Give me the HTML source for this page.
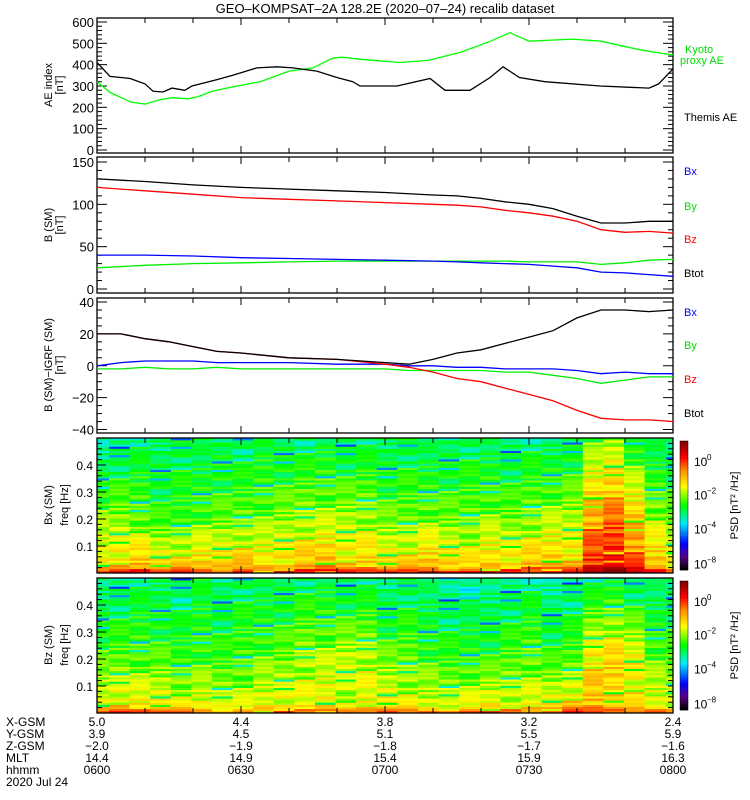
<!DOCTYPE html>
<html><head><meta charset="utf-8"><style>
html,body{margin:0;padding:0;background:#fff;}
svg{display:block;font-family:"Liberation Sans",sans-serif;}
</style></head><body>
<svg id="chart" width="750" height="800" viewBox="0 0 750 800" xmlns="http://www.w3.org/2000/svg">
<text x="385" y="13" text-anchor="middle" font-size="13">GEO–KOMPSAT–2A 128.2E (2020–07–24) recalib dataset</text>
<g id="g"></g>
</svg>
<script>
// ---- Data ----
// minutes since 06:00
const aeThemisT = [0,2.7,6.9,10,11.7,13.75,15.6,18.3,19.8,25,28.3,33.3,37.5,40.8,45.8,50,53.3,54.8,57.5,62.5,69.4,72.5,77.7,81.9,84.6,88,93.3,104.8,115,117,120];
const aeThemisV = [410,345,335,310,275,272,290,280,300,330,350,385,390,385,370,340,320,300,300,300,335,280,280,340,390,340,320,300,290,310,380];
const aeKyotoT = [0,2.7,7,10,13,15.6,19,21,24,28,34,40,45,49,51,55,63,69,76,82,86,90,99,105,113,120];
const aeKyotoV = [320,270,225,215,235,245,240,250,275,295,320,370,385,430,435,425,410,420,460,510,550,510,520,510,470,445];

const bT = [0,10,20,30,40,50,60,70,75,80,85,90,95,100,105,110,115,120];
const bTot = [130,127,123,120,118,116,114,111,110,107,103,100,95,86,78,78,80,80];
const bZ   = [120,116,112,108,106,104,102,100,99,97,93,90,86,80,70,67,68,66];
const bX   = [40,40,39,37,36,35,34,33,32,31,30,29,27,25,20,19,17,15];
const bY   = [25,28,30,31,32,33,33,33,33,33,33,32,32,32,29,31,34,35];

const dT = [0,5,10,15,20,25,30,40,50,60,65,70,75,80,85,90,95,100,105,110,115,120];
const dTot = [20,20,17,15,12,9,8,5,4,2,1,4,8,10,14,18,22,30,35,35,34,35];
const dZ   = [20,20,17,15,12,9,8,5,4,1,-1,-4,-8,-10,-14,-18,-22,-28,-33,-34,-34,-35];
const dX   = [0,2,3,3,3,2,2,2,1,1,0,0,-1,-1,-2,-2,-2,-3,-5,-4,-5,-5];
const dY   = [-2,-2,-1,-2,-2,-1,-2,-2,-2,-2,-3,-3,-3,-3,-4,-4,-6,-8,-11,-9,-7,-7];

// spectrogram column-level (colour-scale 0..1) at high/mid/low freq
const bxHigh = [0.42,0.44,0.46,0.45,0.47,0.45,0.47,0.46,0.48,0.47,0.47,0.48,0.46,0.47,0.46,0.47,0.45,0.46,0.47,0.46,0.45,0.47,0.46,0.48,0.58,0.62,0.52,0.46,0.44];
const bxMid  = [0.58,0.58,0.56,0.52,0.52,0.55,0.55,0.56,0.57,0.58,0.6,0.6,0.6,0.6,0.56,0.56,0.58,0.56,0.56,0.58,0.56,0.58,0.6,0.6,0.76,0.8,0.72,0.6,0.56];
const bxLow  = [0.66,0.7,0.72,0.68,0.7,0.7,0.7,0.72,0.68,0.7,0.72,0.74,0.7,0.7,0.68,0.7,0.72,0.7,0.68,0.7,0.7,0.72,0.72,0.72,0.85,0.88,0.82,0.72,0.68];
const bzHigh = [0.44,0.44,0.46,0.46,0.44,0.47,0.45,0.47,0.46,0.47,0.48,0.48,0.46,0.47,0.44,0.46,0.44,0.42,0.42,0.43,0.44,0.46,0.42,0.44,0.48,0.5,0.46,0.44,0.44];
const bzMid  = [0.54,0.55,0.55,0.54,0.52,0.54,0.52,0.54,0.56,0.56,0.6,0.6,0.62,0.62,0.56,0.56,0.54,0.52,0.52,0.52,0.54,0.56,0.52,0.54,0.68,0.7,0.66,0.56,0.54];
const bzLow  = [0.64,0.68,0.66,0.66,0.64,0.64,0.62,0.62,0.64,0.66,0.64,0.66,0.62,0.64,0.66,0.64,0.62,0.62,0.64,0.66,0.64,0.64,0.66,0.7,0.72,0.68,0.66,0.64,0.64];
const rowTexture = [0.03,-0.06,0.02,0.05,-0.03,0,-0.08,0.04,0.01,-0.02,0.06,-0.05,0.02,-0.01,0.03,-0.2,0.04,0,-0.03,0.05,-0.04,0.02,0.07,-0.02,-0.06,0.03,0.01,-0.1,0.04,-0.02,0.05,0,-0.04,0.02,0.06,-0.03,-0.15,0.02,0.04,-0.05,0.01];

const posRows = ['X-GSM','Y-GSM','Z-GSM','MLT','hhmm'];
const posVals = [['5.0','4.4','3.8','3.2','2.4'],['3.9','4.5','5.1','5.5','5.9'],['−2.0','−1.9','−1.8','−1.7','−1.6'],['14.4','14.9','15.4','15.9','16.3'],['0600','0630','0700','0730','0800']];

// ---- Drawing ----
const NS='http://www.w3.org/2000/svg';
const G=document.getElementById('g');
const X0=97,X1=673;
const xs=t=>X0+t*(X1-X0)/120;
function mk(tag,at,parent){const e=document.createElementNS(NS,tag);for(const k in at)e.setAttribute(k,at[k]);(parent||G).appendChild(e);return e;}
function txt(x,y,s,at){const e=mk('text',Object.assign({x:x,y:y,'font-size':12},at||{}));e.textContent=s;return e;}

const panels=[
 {top:18,bot:153,v0:0,v1:600,y0:150,y1:22,maj:100,min:20,name:'ae'},
 {top:157,bot:293,v0:0,v1:150,y0:289,y1:162,maj:50,min:10,name:'b-sm'},
 {top:298,bot:433,v0:-40,v1:40,y0:429.5,y1:302,maj:20,min:5,name:'b-minus-igrf'}
];
function ysF(p){return v=>p.y0+(v-p.v0)*(p.y1-p.y0)/(p.v1-p.v0);}

function frame(top,bot,name){
  const r=mk('rect',{x:X0,y:top,width:X1-X0,height:bot-top,fill:'none',stroke:'#000','stroke-width':1.3});
  
  
  for(let t=10;t<120;t+=10){
    const x=xs(t),L=(t%30==0)?7:5;
    const a=mk('line',{x1:x,x2:x,y1:top,y2:top+L,stroke:'#000'});
    
    
    const b=mk('line',{x1:x,x2:x,y1:bot,y2:bot-L,stroke:'#000'});
    
    
  }
}
function yaxis(p){
  const ys=ysF(p);
  for(let v=p.v0;v<=p.v1+1e-6;v+=p.min){
    const y=ys(v),major=Math.abs(v/p.maj-Math.round(v/p.maj))<1e-6,L=major?10:5;
    const a=mk('line',{x1:X0,x2:X0+L,y1:y,y2:y,stroke:'#000'});
    
    
    const b=mk('line',{x1:X1,x2:X1-L,y1:y,y2:y,stroke:'#000'});
    
    
    if(major){const t=txt(X0-3,y+5,String(v).replace('-','−'),{'text-anchor':'end','font-size':13});
      
      }
  }
}
function line(p,T,V,color,name){
  const ys=ysF(p);
  const d=T.map((t,i)=>(i?'L':'M')+xs(t).toFixed(1)+','+ys(V[i]).toFixed(1)).join('');
  const e=mk('path',{d:d,fill:'none',stroke:color,'stroke-width':1.3});
  
  
}
panels.forEach(p=>{frame(p.top,p.bot,p.name);yaxis(p);});
line(panels[0],aeKyotoT,aeKyotoV,'#00ff00','kyoto-ae-line');
line(panels[0],aeThemisT,aeThemisV,'#000','themis-ae-line');
line(panels[1],bT,bY,'#00ee00','by-line');
line(panels[1],bT,bX,'#0000ff','bx-line');
line(panels[1],bT,bZ,'#ff0000','bz-line');
line(panels[1],bT,bTot,'#000','btot-line');
line(panels[2],dT,dY,'#00ee00','dby-line');
line(panels[2],dT,dX,'#0000ff','dbx-line');
line(panels[2],dT,dZ,'#ff0000','dbz-line');
line(panels[2],dT,dTot,'#000','dbtot-line');

// legends
[['Kyoto',685,53,'#00dd00'],['proxy AE',680,64,'#00dd00'],['Themis AE',684,121,'#000']].forEach(l=>{const t=txt(l[1],l[2],l[0],{fill:l[3],'font-size':11});
  
  });
[[175,210,243,277],[316,349,383,417]].forEach(ys=>{
  [['Bx','#0000ff'],['By','#00dd00'],['Bz','#ff0000'],['Btot','#000']].forEach((l,i)=>{const t=txt(684,ys[i],l[0],{fill:l[1],'font-size':11});
    
    });
});

// y titles
function vtitle(x,y,lines){lines.forEach((s,i)=>{const t=txt(0,0,s,{'text-anchor':'middle','font-size':11,transform:'translate('+(x+i*11)+','+y+') rotate(-90)'});
  
  });}
vtitle(52,85,['AE index','[nT]']);
vtitle(52,225,['B (SM)','[nT]']);
vtitle(52,365,['B (SM)−IGRF (SM)','[nT]']);
vtitle(52,505,['Bx (SM)']);vtitle(68,505,['freq [Hz]']);
vtitle(52,645,['Bz (SM)']);vtitle(68,645,['freq [Hz]']);

// colormap
const stops=[[0,[0,0,0]],[0.1,[90,0,140]],[0.2,[0,0,255]],[0.36,[0,235,255]],[0.5,[0,255,0]],[0.65,[255,255,0]],[0.78,[255,140,0]],[0.88,[255,0,0]],[1,[130,0,0]]];
function cmap(v){v=Math.max(0,Math.min(1,v));for(let i=1;i<stops.length;i++){if(v<=stops[i][0]){const a=stops[i-1],b=stops[i],f=(v-a[0])/(b[0]-a[0]);return 'rgb('+a[1].map((c,k)=>Math.round(c+(b[1][k]-c)*f)).join(',')+')';}}return 'rgb(130,0,0)';}

const colEdges=[X0];for(let k=0;k<28;k++)colEdges.push(109+20.6*k);colEdges[28]=666;colEdges.push(X1);
function spectro(top,bot,hi,mid,lo,name){
  const nr=64,h=(bot-top)/nr;
  for(let c=0;c<29;c++){
    for(let r=0;r<nr;r++){
      const f=(r+0.5)/nr*0.5;
      let v;
      if(f>0.2)v=mid[c]+(hi[c]-mid[c])*(f-0.2)/0.25;else v=lo[c]+(mid[c]-lo[c])*(f-0.03)/0.17;
      if(f<0.03)v=lo[c]+(0.03-f)*6;
      v+=rowTexture[(r*5+c*7)%rowTexture.length];
      const y=bot-(r+1)*h;
      const e=mk('rect',{x:colEdges[c],y:y.toFixed(2),width:(colEdges[c+1]-colEdges[c]+0.3).toFixed(2),height:(h+0.3).toFixed(2),fill:cmap(v)});
      
      
    }
  }
  frame(top,bot,name);
  for(let m=1;m<25;m++){const yy=bot-(m*0.02)/0.5*(bot-top);
    const a=mk('line',{x1:X0,x2:X0+5,y1:yy,y2:yy,stroke:'#000'});
    
    
    const b=mk('line',{x1:X1,x2:X1-5,y1:yy,y2:yy,stroke:'#000'});
    
    }
  for(let k=1;k<=4;k++){const yy=bot-(k*0.1)/0.5*(bot-top);
    const a=mk('line',{x1:X0,x2:X0+9,y1:yy,y2:yy,stroke:'#000'});
    
    
    const t=txt(X0-4,yy+5,'0.'+k,{'text-anchor':'end','font-size':12});
    
    }
  // colorbar
  const cb=mk('g',{});
  
  
  const n=60,ch=(bot-top-6)/n;
  for(let i=0;i<n;i++)mk('rect',{x:680,y:(bot-3-(i+1)*ch).toFixed(2),width:8,height:(ch+0.3).toFixed(2),fill:cmap(i/(n-1))},cb);
  mk('rect',{x:680,y:top+3,width:8,height:bot-top-6,fill:'none',stroke:'#000','stroke-width':0.5},cb);
  [['0',0.17],['−2',0.42],['−4',0.67],['−8',0.93]].forEach(l=>{const y=top+(bot-top)*l[1];
    const t=txt(694,y+5,'10',{'font-size':12});
    const s=txt(707,y-1,l[0],{'font-size':8});});
  const t=txt(0,0,'PSD [nT² /Hz]',{'text-anchor':'middle','font-size':11,transform:'translate(738,'+((top+bot)/2)+') rotate(-90)'});
  
  
}
spectro(438,573,bxHigh,bxMid,bxLow,'bx-spectrogram');
spectro(578,713,bzHigh,bzMid,bzLow,'bz-spectrogram');

// position table
const colX=[97,241,385,529,673];
posRows.forEach((r,i)=>{const y=726+i*12;
  const t=txt(6,y,r,{'font-size':12});
  posVals[i].forEach((v,j)=>{const s=txt(colX[j],y,v,{'text-anchor':'middle','font-size':12});
    
    });
});
const dt=txt(6,786,'2020 Jul 24',{'font-size':12});


</script>
</body></html>
